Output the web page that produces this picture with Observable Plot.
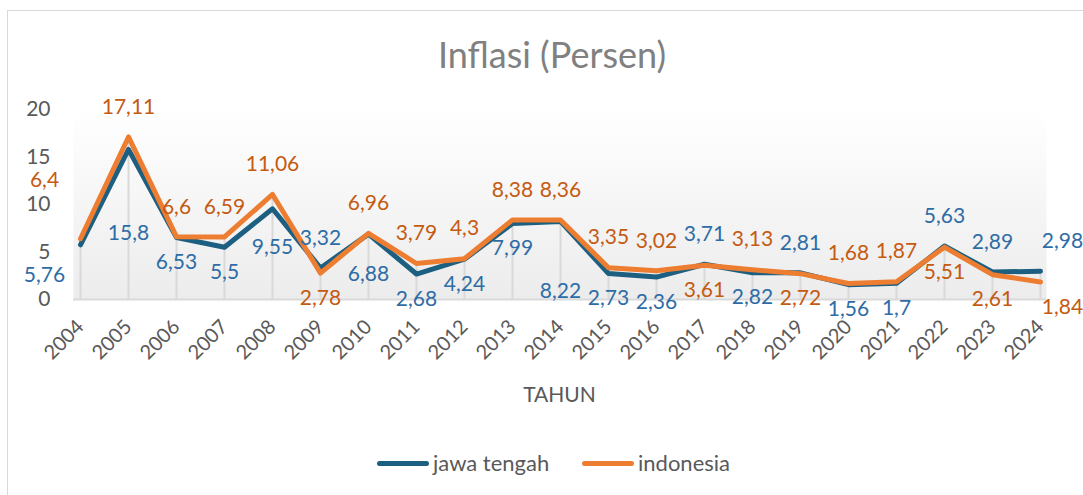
<!DOCTYPE html>
<html>
<head>
<meta charset="utf-8">
<script src="https://cdn.jsdelivr.net/npm/d3@7"></script>
<script src="https://cdn.jsdelivr.net/npm/@observablehq/plot@0.6"></script>
<style>
  body { margin: 0; background: #fff; font-family: Lato, "Open Sans", sans-serif; }
  #wrap { position: relative; width: 1083px; height: 495px; overflow: hidden; }
  #border { position: absolute; left: 7px; top: 10px; width: 1200px; height: 600px; border: 1px solid #d9d9d9; box-sizing: border-box; }
  #title { position: absolute; left: 0; width: 1104px; top: 32px; text-align: center; font-size: 36px; line-height: 44px; color: #808080; }
  #chart { position: absolute; left: 0; top: 0; }
  #xlabel { position: absolute; left: 0; width: 1119px; top: 380px; text-align: center; font-size: 21px; line-height: 28px; color: #595959; }
  #legend { position: absolute; top: 449px; left: 0; width: 1083px; font-size: 22px; line-height: 28px; color: #595959; }
  .lg { position: absolute; display: flex; align-items: center; }
  .sw { width: 52px; height: 5px; border-radius: 3px; margin-right: 4px; }
</style>
</head>
<body>
<div id="wrap">
  <div id="border"></div>
  <div id="chart"></div>
  <div id="title">Inflasi (Persen)</div>
  <div id="xlabel">TAHUN</div>
  <div id="legend"></div>
</div>
<script>
const years = ["2004","2005","2006","2007","2008","2009","2010","2011","2012","2013","2014","2015","2016","2017","2018","2019","2020","2021","2022","2023","2024"];
const jawaTengah = [5.76, 15.8, 6.53, 5.5, 9.55, 3.32, 6.88, 2.68, 4.24, 7.99, 8.22, 2.73, 2.36, 3.71, 2.82, 2.81, 1.56, 1.7, 5.63, 2.89, 2.98];
const indonesia = [6.4, 17.11, 6.6, 6.59, 11.06, 2.78, 6.96, 3.79, 4.3, 8.38, 8.36, 3.35, 3.02, 3.61, 3.13, 2.72, 1.68, 1.87, 5.51, 2.61, 1.84];
const seriesNames = ["jawa tengah", "indonesia"];
const yTicks = [0, 5, 10, 15, 20];

const lineColors = {"jawa tengah": "#1d5f80", "indonesia": "#ed7d31"};
const labelColors = {"jawa tengah": "#2e6ca6", "indonesia": "#c55a11"};

const rows = [];
years.forEach((yr, i) => {
  const a = jawaTengah[i], b = indonesia[i];
  rows.push({year: yr, series: "jawa tengah", value: a, above: a > b});
  rows.push({year: yr, series: "indonesia", value: b, above: b > a});
});
const drops = years.map((yr, i) => ({year: yr, top: Math.max(jawaTengah[i], indonesia[i])}));
const fmt = v => String(v).replace(".", ",");

// label placement (styling only): higher series above, lower below;
// a few lower labels sit further down, as in the original chart
const belowOverride = {"2005": 84, "2008": 38, "2010": 40, "2014": 70};
function offsetOf(d) {
  const first = d.year === years[0], last = d.year === years[years.length - 1];
  const dx = first ? -36 : last ? 22 : 0;
  let dy;
  if (d.above) dy = first ? -58 : -30;
  else dy = first ? 30 : (belowOverride[d.year] ?? 25);
  return {dx, dy};
}
const groups = d3.groups(rows, d => { const o = offsetOf(d); return o.dx + "|" + o.dy; });
const labelMarks = groups.map(([key, arr]) => {
  const [dx, dy] = key.split("|").map(Number);
  return Plot.text(arr, {
    x: "year", y: "value", text: d => fmt(d.value),
    fill: d => labelColors[d.series], dx, dy, fontSize: 21
  });
});

const W = 1083, H = 380;
const chart = Plot.plot({
  width: W, height: H,
  marginLeft: 73, marginRight: 37, marginTop: 109, marginBottom: H - 299,
  style: {fontFamily: "Lato, 'Open Sans', sans-serif", background: "transparent", overflow: "visible"},
  x: {type: "point", domain: years, padding: 0, label: null},
  y: {domain: [0, 20], ticks: yTicks, label: null},
  marks: [
    Plot.frame({fill: "url(#bgGrad)", stroke: null}),
    Plot.ruleX(drops, {x: "year", y1: 0, y2: "top", stroke: "#d9d9d9", strokeWidth: 2}),
    Plot.ruleY([0], {stroke: "#d9d9d9", strokeWidth: 2}),
    Plot.axisY({ticks: yTicks, tickSize: 0, tickPadding: 23, fontSize: 21, color: "#595959", label: null}),
    Plot.axisX({tickSize: 0, tickRotate: -45, tickPadding: 24, fontSize: 20, color: "#595959", label: null}),
    Plot.line(rows.filter(d => d.series === "jawa tengah"), {x: "year", y: "value", stroke: lineColors["jawa tengah"], strokeWidth: 5, strokeLinejoin: "round"}),
    Plot.line(rows.filter(d => d.series === "indonesia"), {x: "year", y: "value", stroke: lineColors["indonesia"], strokeWidth: 5, strokeLinejoin: "round"}),
    ...labelMarks
  ]
});
const ns = "http://www.w3.org/2000/svg";
const defs = document.createElementNS(ns, "defs");
defs.innerHTML = '<linearGradient id="bgGrad" x1="0" y1="0" x2="0" y2="1"><stop offset="0" stop-color="#ffffff"/><stop offset="1" stop-color="#ececec"/></linearGradient>';
chart.insertBefore(defs, chart.firstChild);
document.getElementById("chart").appendChild(chart);

const legend = document.getElementById("legend");
const legendX = [377, 582];
seriesNames.forEach((s, i) => {
  const item = document.createElement("div");
  item.className = "lg";
  item.style.left = legendX[i] + "px";
  item.innerHTML = `<div class="sw" style="background:${lineColors[s]}"></div><span>${s}</span>`;
  legend.appendChild(item);
});
</script>
</body>
</html>
